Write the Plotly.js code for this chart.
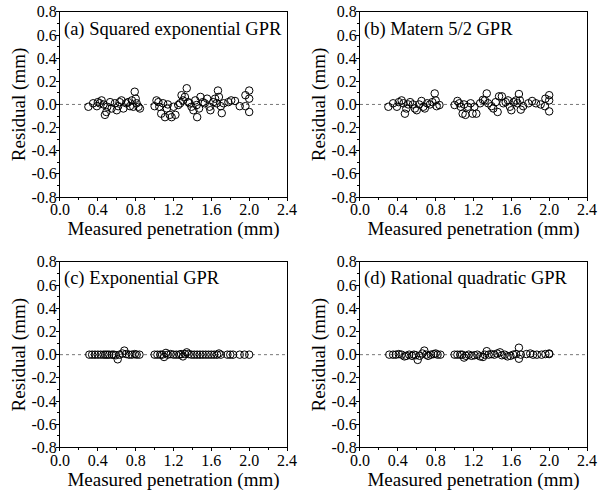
<!DOCTYPE html>
<html>
<head>
<meta charset="utf-8">
<script src="https://cdn.plot.ly/plotly-3.0.1.min.js"></script>
<style>html,body{margin:0;padding:0;background:#fff;}#chart{width:603px;height:495px;}</style>
</head>
<body>
<div id="chart"></div>
<script>
// Panel titles
const panelTitles = ["(a) Squared exponential GPR", "(b) Matern 5/2 GPR", "(c) Exponential GPR", "(d) Rational quadratic GPR"];
const xTitle = "Measured penetration (mm)";
const yTitle = "Residual (mm)";
const xTickVals = [0.0, 0.4, 0.8, 1.2, 1.6, 2.0, 2.4];
const xTickText = ["0.0", "0.4", "0.8", "1.2", "1.6", "2.0", "2.4"];
const yTickVals = [0.8, 0.6, 0.4, 0.2, 0.0, -0.2, -0.4, -0.6, -0.8];
const yTickText = ["0.8", "0.6", "0.4", "0.2", "0.0", "-0.2", "-0.4", "-0.6", "-0.8"];

// (a) Squared exponential GPR
const xA = [0.30,0.35,0.39,0.40,0.42,0.44,0.46,0.475,0.49,0.50,0.53,0.545,0.58,0.60,0.615,0.63,0.65,0.67,0.70,0.72,0.74,0.76,0.775,0.79,0.80,0.81,0.83,0.845,
  1.00,1.02,1.04,1.05,1.07,1.09,1.11,1.13,1.14,1.16,1.18,1.20,1.22,1.25,1.27,1.285,1.30,1.32,1.34,1.355,1.37,1.39,1.41,1.43,1.445,1.45,1.47,1.485,1.51,1.53,1.555,1.58,1.59,1.62,1.64,1.655,1.67,1.68,1.70,1.71,1.73,1.78,1.81,1.85,1.90,1.96,1.96,2.00,2.00,2.00];
const yA = [-0.02,0.01,-0.015,0.02,0.01,0.035,0.0,-0.09,-0.065,-0.02,0.02,-0.035,0.01,-0.05,-0.015,0.02,0.035,-0.035,0.01,0.02,-0.015,0.035,-0.02,0.11,0.05,0.01,-0.02,-0.035,
  -0.015,0.035,0.02,-0.02,-0.08,0.01,-0.11,-0.035,0.0,-0.09,-0.11,-0.02,-0.09,-0.005,0.01,0.08,0.035,0.065,0.14,0.02,0.01,-0.02,-0.05,0.035,-0.005,-0.11,-0.035,0.065,0.02,0.01,0.05,-0.02,-0.05,0.02,0.05,0.01,0.12,0.065,-0.015,-0.075,0.01,0.02,0.035,0.03,-0.015,-0.015,0.08,0.12,0.05,-0.065];

// (b) Matern 5/2 GPR
const xB = [0.30,0.35,0.39,0.41,0.44,0.46,0.475,0.49,0.51,0.53,0.56,0.58,0.60,0.625,0.65,0.67,0.685,0.71,0.74,0.765,0.79,0.80,0.81,0.84,
  1.00,1.03,1.05,1.065,1.085,1.10,1.115,1.14,1.17,1.19,1.21,1.23,1.27,1.30,1.32,1.34,1.355,1.39,1.41,1.435,1.455,1.47,1.50,1.515,1.54,1.565,1.585,1.60,1.625,1.65,1.665,1.68,1.69,1.70,1.725,1.78,1.82,1.86,1.91,1.955,1.96,2.00,2.00,2.00];
const yB = [-0.02,0.01,-0.02,0.02,0.035,0.01,-0.08,-0.035,0.0,0.02,0.0,-0.035,-0.05,0.0,0.03,-0.02,-0.035,0.01,0.0,0.02,0.095,0.035,-0.015,-0.005,
  -0.005,0.03,0.01,-0.02,-0.08,0.0,-0.09,-0.02,0.01,-0.08,-0.02,-0.08,0.01,0.04,0.035,0.095,0.01,-0.015,-0.035,0.02,-0.065,0.07,0.07,0.01,0.02,0.035,-0.02,-0.05,0.02,0.035,0.01,0.09,0.035,-0.045,-0.015,0.01,0.03,0.01,0.0,-0.015,0.05,0.08,0.035,-0.06];

// (c) Exponential GPR
const xC = [0.31,0.34,0.37,0.40,0.43,0.46,0.48,0.50,0.52,0.55,0.57,0.59,0.61,0.63,0.66,0.68,0.70,0.73,0.76,0.79,0.81,0.84,
  1.00,1.03,1.06,1.08,1.10,1.12,1.14,1.17,1.20,1.23,1.26,1.28,1.30,1.32,1.34,1.36,1.39,1.42,1.45,1.48,1.51,1.54,1.57,1.60,1.63,1.66,1.68,1.70,1.77,1.80,1.83,1.90,1.95,2.00];
const yC = [0.0,0.0,0.0,0.0,0.0,0.0,0.0,0.0,0.0,0.0,0.0,-0.005,-0.04,0.0,0.01,0.035,0.005,0.0,0.0,0.005,0.0,0.0,
  0.0,0.0,0.0,0.0,-0.02,0.015,0.0,0.005,0.0,0.0,0.0,0.005,-0.015,0.005,0.02,0.005,0.0,0.0,0.0,0.0,0.0,0.0,0.0,0.0,0.0,0.0,0.01,0.0,0.0,0.0,0.0,0.0,0.0,0.0];

// (d) Rational quadratic GPR
const xD = [0.31,0.35,0.38,0.41,0.44,0.47,0.49,0.52,0.55,0.57,0.59,0.61,0.63,0.66,0.68,0.70,0.72,0.75,0.78,0.80,0.82,0.85,
  1.00,1.03,1.06,1.08,1.10,1.12,1.15,1.18,1.21,1.24,1.27,1.30,1.32,1.34,1.36,1.39,1.42,1.45,1.48,1.50,1.53,1.56,1.59,1.62,1.65,1.68,1.68,1.70,1.76,1.80,1.83,1.87,1.92,1.96,2.00,2.00];
const yD = [0.0,0.0,0.0,0.005,0.0,-0.015,-0.01,0.0,-0.01,0.0,-0.005,-0.045,-0.01,0.01,0.035,0.0,-0.01,0.0,0.005,0.01,0.0,0.0,
  0.0,0.0,0.0,0.0,-0.025,-0.01,0.0,-0.01,-0.005,0.0,-0.015,-0.02,0.0,0.03,0.0,0.005,0.0,0.01,0.02,-0.005,0.0,-0.015,-0.01,0.0,0.005,0.06,-0.035,0.0,0.005,0.01,0.0,0.0,0.0,0.005,0.01,0.005];

const xs = [xA, xB, xC, xD];
const ys = [yA, yB, yC, yD];

const fontFam = "'Liberation Serif', 'Times New Roman', serif";
const xDomains = [[0.0995, 0.476], [0.597, 0.9735], [0.0995, 0.476], [0.597, 0.9735]];
const yDomains = [[0.602, 0.976], [0.602, 0.976], [0.096, 0.471], [0.096, 0.471]];

const traces = [];
const layout = {
  width: 603, height: 495,
  margin: {l: 0, r: 0, t: 0, b: 0},
  paper_bgcolor: '#fff', plot_bgcolor: '#fff',
  showlegend: false,
  font: {family: fontFam, color: '#000', size: 16},
  annotations: [], shapes: []
};

for (let i = 0; i < 4; i++) {
  const sfx = i === 0 ? '' : String(i + 1);
  traces.push({
    type: 'scatter', mode: 'markers',
    x: xs[i], y: ys[i],
    xaxis: 'x' + sfx, yaxis: 'y' + sfx,
    marker: {symbol: 'circle-open', size: 7.5, color: '#000', line: {width: 1, color: '#000'}},
    cliponaxis: false
  });
  const common = {
    showgrid: false, zeroline: false, showline: true, linecolor: '#000', linewidth: 1,
    mirror: true, ticks: 'outside', ticklen: 3, tickwidth: 1, tickcolor: '#000',
    tickfont: {family: fontFam, size: 16, color: '#000'},
    tickmode: 'array'
  };
  layout['xaxis' + sfx] = Object.assign({}, common, {
    domain: xDomains[i], range: [0, 2.4], anchor: 'y' + sfx,
    tickvals: xTickVals, ticktext: xTickText, ticklabelstandoff: -5,
    minor: {tickvals: [0.2, 0.6, 1.0, 1.4, 1.8, 2.2], ticks: 'outside', ticklen: 2, tickcolor: '#000'},
    title: {text: xTitle, font: {family: fontFam, size: 19, color: '#000'}, standoff: 0}
  });
  layout['yaxis' + sfx] = Object.assign({}, common, {
    domain: yDomains[i], range: [-0.8, 0.8], anchor: 'x' + sfx,
    tickvals: yTickVals, ticktext: yTickText, ticklabelstandoff: -4,
    minor: {tickvals: [0.7, 0.5, 0.3, 0.1, -0.1, -0.3, -0.5, -0.7], ticks: 'outside', ticklen: 2, tickcolor: '#000'},
    title: {text: yTitle, font: {family: fontFam, size: 19, color: '#000'}, standoff: 0}
  });
  layout.shapes.push({
    type: 'line', xref: 'x' + sfx + ' domain', yref: 'y' + sfx,
    x0: 0, x1: 1, y0: 0, y1: 0,
    line: {color: '#777', width: 1, dash: 'dot'}, layer: 'below'
  });
  layout.annotations.push({
    text: panelTitles[i], xref: 'x' + sfx + ' domain', yref: 'y' + sfx + ' domain',
    x: 0.01, y: 0.975, xanchor: 'left', yanchor: 'top', showarrow: false,
    font: {family: fontFam, size: 18.5, color: '#000'}
  });
}

Plotly.newPlot('chart', traces, layout, {displayModeBar: false, staticPlot: true});
</script>
</body>
</html>
